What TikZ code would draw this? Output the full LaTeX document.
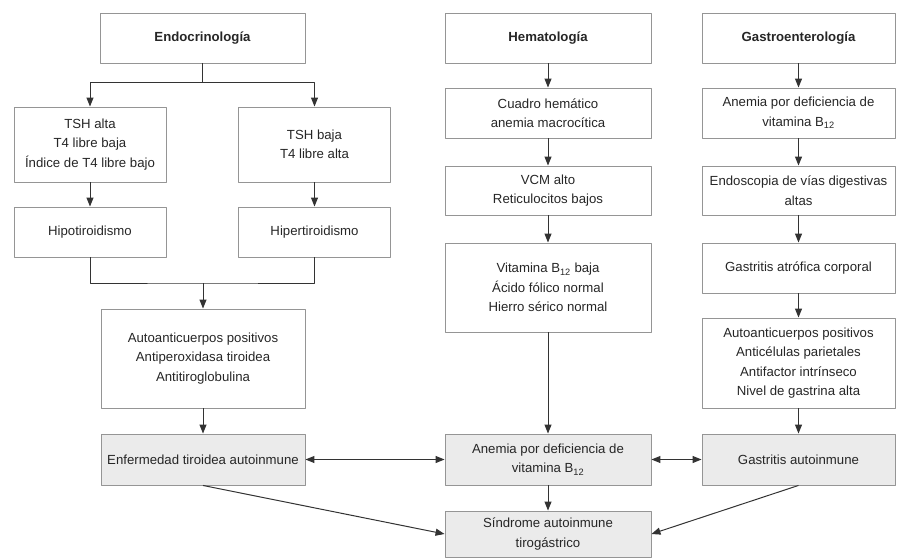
\documentclass[tikz,border=0pt]{standalone}
\usepackage{fontspec}
\setmainfont{Liberation Sans}
\usetikzlibrary{arrows.meta}
\definecolor{boxline}{HTML}{959595}
\definecolor{arrline}{HTML}{333333}
\definecolor{boxfill}{HTML}{EBEBEB}
\definecolor{txt}{HTML}{262626}
\begin{document}
\begin{tikzpicture}[x=1pt,y=-1pt,line join=round,
    box/.style={draw=boxline,line width=0.9pt,align=center,inner sep=2pt,text=txt,
      font=\fontsize{13.2}{19.5}\selectfont},
    shaded/.style={box,fill=boxfill},
    arr/.style={draw=arrline,line width=1pt,-{Triangle[length=9pt,width=7pt]}},
    darr/.style={draw=arrline,line width=1pt,{Triangle[length=9pt,width=7pt]}-{Triangle[length=9pt,width=7pt]}},
    plain/.style={draw=arrline,line width=1pt}]
    \useasboundingbox (0,0) rectangle (897,559);
    % endocrinologia
    \node[box,minimum width=205,minimum height=50] (endo) at (202.5,38) {\bfseries Endocrinología};
    \node[box,minimum width=152,minimum height=75] (tshalta) at (90,144.5) {TSH alta\\T4 libre baja\\Índice de T4 libre bajo};
    \node[box,minimum width=152,minimum height=75] (tshbaja) at (314.5,144.5) {TSH baja\\T4 libre alta};
    \node[box,minimum width=152,minimum height=50] (hipo) at (90,232) {Hipotiroidismo};
    \node[box,minimum width=152,minimum height=50] (hiper) at (314.5,232) {Hipertiroidismo};
    \node[box,minimum width=204,minimum height=99] (autot) at (203,358.5) {Autoanticuerpos positivos\\Antiperoxidasa tiroidea\\Antitiroglobulina};
    \node[shaded,minimum width=204,minimum height=51] (enf) at (203,459.5) {Enfermedad tiroidea autoinmune};
    % hematologia
    \node[box,minimum width=206,minimum height=50] (hema) at (548,38) {\bfseries Hematología};
    \node[box,minimum width=206,minimum height=50] (cuadro) at (548,113) {Cuadro hemático\\anemia macrocítica};
    \node[box,minimum width=206,minimum height=49] (vcm) at (548,190.5) {VCM alto\\Reticulocitos bajos};
    \node[box,minimum width=206,minimum height=89] (vitb) at (548,287.5) {Vitamina B\textsubscript{12} baja\\Ácido fólico normal\\Hierro sérico normal};
    \node[shaded,minimum width=206,minimum height=51] (anemia) at (548,459.5) {Anemia por deficiencia de\\vitamina B\textsubscript{12}};
    \node[shaded,minimum width=206,minimum height=46] (sind) at (548,534) {Síndrome autoinmune\\tirogástrico};
    % gastroenterologia
    \node[box,minimum width=193,minimum height=50] (gastro) at (798.5,38) {\bfseries Gastroenterología};
    \node[box,minimum width=193,minimum height=50] (anemr) at (798.5,113) {Anemia por deficiencia de\\vitamina B\textsubscript{12}};
    \node[box,minimum width=193,minimum height=49] (endos) at (798.5,190.5) {Endoscopia de vías digestivas\\altas};
    \node[box,minimum width=193,minimum height=50] (gatro) at (798.5,268) {Gastritis atrófica corporal};
    \node[box,minimum width=193,minimum height=90] (autog) at (798.5,363) {Autoanticuerpos positivos\\Anticélulas parietales\\Antifactor intrínseco\\Nivel de gastrina alta};
    \node[shaded,minimum width=193,minimum height=51] (gauto) at (798.5,459.5) {Gastritis autoinmune};
    % connectors
    \coordinate (split) at (endo.south |- 0,83);
    \coordinate (join) at (203,283);
    \draw[plain] (endo.south) -- (split);
    \draw[arr] (split) -| (tshalta.north);
    \draw[arr] (split) -| (tshbaja.north);
    \draw[arr] (tshalta) -- (hipo);
    \draw[arr] (tshbaja) -- (hiper);
    \draw[plain] (hipo.south) |- (join) -| (hiper.south);
    \draw[arr] (join) -- (autot.north);
    \draw[arr] (autot) -- (enf);
    \draw[arr] (hema) -- (cuadro);
    \draw[arr] (cuadro) -- (vcm);
    \draw[arr] (vcm) -- (vitb);
    \draw[arr] (vitb) -- (anemia);
    \draw[arr] (anemia) -- (sind);
    \draw[arr] (gastro) -- (anemr);
    \draw[arr] (anemr) -- (endos);
    \draw[arr] (endos) -- (gatro);
    \draw[arr] (gatro) -- (autog);
    \draw[arr] (autog) -- (gauto);
    \draw[darr] (enf.east) -- (anemia.west);
    \draw[darr] (anemia.east) -- (gauto.west);
    \draw[arr] (enf.south) -- (sind.west);
    \draw[arr] (gauto.south) -- (sind.east);
\end{tikzpicture}
\end{document}
